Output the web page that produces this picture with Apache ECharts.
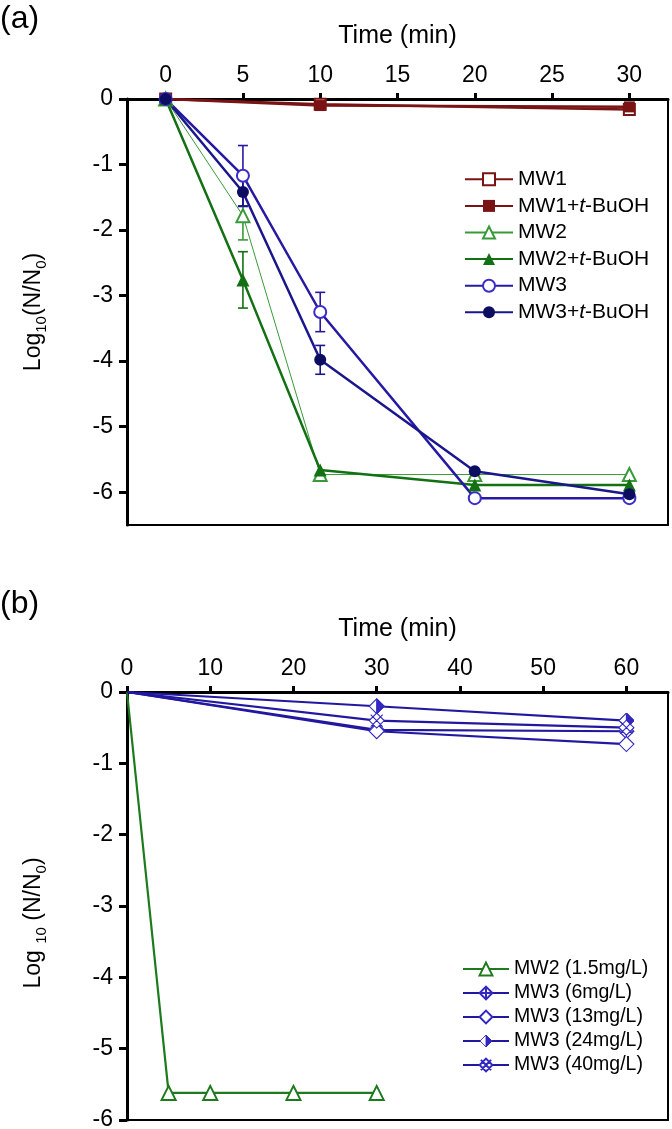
<!DOCTYPE html>
<html><head><meta charset="utf-8">
<script src="https://cdn.jsdelivr.net/npm/echarts@6/dist/echarts.min.js"></script>
<style>html,body{margin:0;padding:0;background:#fff}#c{width:672px;height:1129px}</style>
</head><body><div id="c"></div>
<script>
// ---------- Panel (a) data ----------
const timeA_MW1 = [0, 10, 30];
const MW1 = [0, -0.08, -0.16];
const MW1_tBuOH = [0, -0.10, -0.12];
const timeA = [0, 5, 10, 20, 30];
const MW2 = [0, -1.78, -5.73, -5.73, -5.73];
const MW2_tBuOH = [0, -2.76, -5.66, -5.89, -5.89];
const MW3 = [0, -1.17, -3.25, -6.09, -6.09];
const MW3_tBuOH = [0, -1.42, -3.98, -5.68, -6.03];
const MW2_err = [0, 0.37, 0, 0, 0];
const MW2_tBuOH_err = [0, 0.43, 0, 0, 0];
const MW3_err = [0, 0.46, 0.30, 0, 0];
const MW3_tBuOH_err = [0, 0.22, 0.22, 0, 0];
const ticksA_x = [0, 5, 10, 15, 20, 25, 30];
const ticksA_y = [0, -1, -2, -3, -4, -5, -6];

// ---------- Panel (b) data ----------
const timeB_MW2 = [0, 5, 10, 20, 30];
const MW2_15 = [0, -5.62, -5.62, -5.62, -5.62];
const timeB_MW3 = [0, 30, 60];
const MW3_6 = [0, -0.53, -0.55];
const MW3_13 = [0, -0.55, -0.73];
const MW3_24 = [0, -0.20, -0.40];
const MW3_40 = [0, -0.40, -0.50];
const ticksB_x = [0, 10, 20, 30, 40, 50, 60];
const ticksB_y = [0, -1, -2, -3, -4, -5, -6];

const legendA = ['MW1', 'MW1+t-BuOH', 'MW2', 'MW2+t-BuOH', 'MW3', 'MW3+t-BuOH'];
const legendB = ['MW2 (1.5mg/L)', 'MW3 (6mg/L)', 'MW3 (13mg/L)', 'MW3 (24mg/L)', 'MW3 (40mg/L)'];

const FF = 'Liberation Sans, Arial, sans-serif';
const RED = '#7a1414', GRN_L = '#3a9a3a', GRN = '#137013', BLU = '#2619a3', NAVY = '#1a168c', NAVY_M = '#0c0c60', BLU_M = '#3a2ec6';
const BLUB = '#2218a0', BLUB_M = '#3228c0', GRNB = '#1d7a1d';

const halfSvg = "<svg xmlns='http://www.w3.org/2000/svg' width='30' height='30' viewBox='0 0 30 30'><path d='M15 1 L29 15 L15 29 L1 15 Z' fill='#fff' stroke='" + BLUB_M + "' stroke-width='2'/><path d='M15 1 L29 15 L15 29 Z' fill='" + BLUB_M + "' stroke='" + BLUB_M + "' stroke-width='2'/></svg>";
const halfDiamond = 'image://data:image/svg+xml;charset=utf-8,' + encodeURIComponent(halfSvg);
const crossDiamond = 'path://M0,-10 L10,0 L0,10 L-10,0 Z M0,-10 L0,10 M-10,0 L10,0';
const openDiamond = 'path://M0,-10 L10,0 L0,10 L-10,0 Z';
const xDiamond = 'path://M0,-10 L10,0 L0,10 L-10,0 Z M-5,-5 L5,5 M5,-5 L-5,5 M-8,-8 L-5,-5 M8,8 L5,5 M8,-8 L5,-5 M-8,8 L-5,5';

function pairs(xs, ys) { return xs.map((x, i) => [x, ys[i]]); }

function line(name, xs, ys, idx, symbol, size, itemStyle, lineColor, lineWidth, hideFirst) {
  return {
    type: 'line', name, xAxisIndex: idx * 2, yAxisIndex: idx * 2, data: pairs(xs, ys),
    symbol, symbolSize: hideFirst ? (v => v[0] === 0 ? 0 : size) : size,
    itemStyle, lineStyle: { color: lineColor, width: lineWidth },
    showSymbol: true, clip: false, z: 3, emphasis: { disabled: true }
  };
}

function errBars(name, xs, ys, errs, color) {
  const d = [];
  xs.forEach((x, i) => { if (errs[i] > 0) d.push([x, ys[i] - errs[i], ys[i] + errs[i]]); });
  return {
    type: 'custom', name: name + ' err', xAxisIndex: 0, yAxisIndex: 0, data: d, z: 2, silent: true,
    encode: { x: 0, y: [1, 2] },
    renderItem: (params, api) => {
      const x = api.value(0);
      const lo = api.coord([x, api.value(1)]);
      const hi = api.coord([x, api.value(2)]);
      const w = 5;
      const st = { stroke: color, lineWidth: 1.6 };
      return { type: 'group', children: [
        { type: 'line', shape: { x1: lo[0], y1: lo[1], x2: hi[0], y2: hi[1] }, style: st },
        { type: 'line', shape: { x1: lo[0] - w, y1: lo[1], x2: lo[0] + w, y2: lo[1] }, style: st },
        { type: 'line', shape: { x1: hi[0] - w, y1: hi[1], x2: hi[0] + w, y2: hi[1] }, style: st }
      ]};
    }
  };
}

function mainX(grid, min, max, ticks) {
  return {
    gridIndex: grid, type: 'value', position: 'top', min, max,
    axisLine: { show: true, onZero: false, lineStyle: { color: '#000', width: 3 } },
    axisTick: { show: true, customValues: ticks, length: 6, inside: false, lineStyle: { color: '#000', width: 3 } },
    axisLabel: { customValues: ticks, margin: 12, fontSize: 23, color: '#000', fontFamily: FF },
    splitLine: { show: false },
    name: 'Time (min)', nameLocation: 'middle', nameGap: 50,
    nameTextStyle: { fontSize: 25, color: '#000', fontFamily: FF }
  };
}
function edgeX(grid, min, max) {
  return { gridIndex: grid, type: 'value', position: 'bottom', min, max,
    axisLine: { show: true, onZero: false, lineStyle: { color: '#000', width: 2 } },
    axisTick: { show: false }, axisLabel: { show: false }, splitLine: { show: false } };
}
function mainY(grid, min, max, ticks, nameRich, pad) {
  return {
    gridIndex: grid, type: 'value', position: 'left', min, max,
    axisLine: { show: true, onZero: false, lineStyle: { color: '#000', width: 3 } },
    axisTick: { show: true, customValues: ticks, length: 8, lineStyle: { color: '#000', width: 3 } },
    axisLabel: { customValues: ticks, margin: 14, fontSize: 23, color: '#000', fontFamily: FF },
    splitLine: { show: false },
    name: nameRich, nameLocation: 'middle', nameRotate: 90, nameGap: 78,
    nameTextStyle: { color: '#000', fontFamily: FF, padding: pad, rich: {
      a: { fontSize: 23, fontFamily: FF, color: '#000', lineHeight: 30 },
      s: { fontSize: 15, fontFamily: FF, color: '#000', lineHeight: 15, verticalAlign: 'bottom' }
    } }
  };
}
function edgeY(grid, min, max) {
  return { gridIndex: grid, type: 'value', position: 'right', min, max,
    axisLine: { show: true, onZero: false, lineStyle: { color: '#000', width: 2 } },
    axisTick: { show: false }, axisLabel: { show: false }, splitLine: { show: false } };
}

const fmtA = n => n.indexOf('+t-') >= 0 ? '{n|' + n.split('+t-')[0] + '+}{i|t}{n|-' + n.split('+t-')[1] + '}' : '{n|' + n + '}';

const option = {
  animation: false,
  backgroundColor: '#fff',
  grid: [
    { left: 127, top: 99, width: 541, height: 426, outerBoundsMode: 'none' },
    { left: 127, top: 692, width: 541, height: 428, outerBoundsMode: 'none' }
  ],
  xAxis: [mainX(0, -2.5, 32.5, ticksA_x), edgeX(0, -2.5, 32.5), mainX(1, 0, 65, ticksB_x), edgeX(1, 0, 65)],
  yAxis: [
    mainY(0, -6.5, 0, ticksA_y, '{a|Log}{s|10}{a|(N/N}{s|0}{a|)}', 0), edgeY(0, -6.5, 0),
    mainY(1, -6, 0, ticksB_y, '{a|Log }{s|10}{a| (N/N}{s|0}{a|)}', [0, 34, 0, 0]), edgeY(1, -6, 0)
  ],
  legend: [
    { data: legendA, orient: 'vertical', left: 464, top: 166, padding: 0, itemGap: 0, itemWidth: 48, itemHeight: 15,
      selectedMode: false, formatter: fmtA,
      textStyle: { color: '#000', fontSize: 21, fontFamily: FF, lineHeight: 26.6, rich: {
        n: { fontSize: 21, fontFamily: FF, color: '#000', lineHeight: 26.6 },
        i: { fontSize: 21, fontFamily: FF, color: '#000', fontStyle: 'italic', lineHeight: 26.6 } } } },
    { data: legendB, orient: 'vertical', left: 462, top: 957, padding: 0, itemGap: 0, itemWidth: 46, itemHeight: 16,
      selectedMode: false,
      textStyle: { color: '#000', fontSize: 19.5, fontFamily: FF, lineHeight: 24 } }
  ],
  graphic: [
    { type: 'text', left: 0, top: 3, style: { text: '(a)', fontSize: 32, fontFamily: FF, fill: '#000' } },
    { type: 'text', left: 0, top: 588, style: { text: '(b)', fontSize: 32, fontFamily: FF, fill: '#000' } }
  ],
  series: [
    errBars('MW2', timeA, MW2, MW2_err, GRN_L),
    errBars('MW2+t-BuOH', timeA, MW2_tBuOH, MW2_tBuOH_err, GRN),
    errBars('MW3', timeA, MW3, MW3_err, BLU),
    errBars('MW3+t-BuOH', timeA, MW3_tBuOH, MW3_tBuOH_err, NAVY),
    line('MW1', timeA_MW1, MW1, 0, 'emptyRect', 11, { color: RED, borderWidth: 1.2 }, RED, 2.5),
    line('MW1+t-BuOH', timeA_MW1, MW1_tBuOH, 0, 'rect', 11, { color: RED }, RED, 2.5),
    line('MW2', timeA, MW2, 0, 'emptyTriangle', 13, { color: GRN_L, borderWidth: 1.2 }, GRN_L, 1),
    line('MW2+t-BuOH', timeA, MW2_tBuOH, 0, 'triangle', 13, { color: GRN }, GRN, 2.5),
    line('MW3', timeA, MW3, 0, 'emptyCircle', 12, { color: BLU_M, borderWidth: 1.2 }, BLU, 2.5),
    line('MW3+t-BuOH', timeA, MW3_tBuOH, 0, 'circle', 12, { color: NAVY_M }, NAVY, 2.5),
    line('MW2 (1.5mg/L)', timeB_MW2, MW2_15, 1, 'emptyTriangle', 14, { color: GRNB, borderWidth: 1.2 }, GRNB, 2.2, true),
    line('MW3 (6mg/L)', timeB_MW3, MW3_6, 1, crossDiamond, 15, { color: '#fff', borderColor: BLUB_M, borderWidth: 1.1 }, BLUB, 2.2, true),
    line('MW3 (13mg/L)', timeB_MW3, MW3_13, 1, openDiamond, 15, { color: '#fff', borderColor: BLUB_M, borderWidth: 1.1 }, BLUB, 2.2, true),
    line('MW3 (24mg/L)', timeB_MW3, MW3_24, 1, halfDiamond, 16, { color: BLUB_M }, BLUB, 2.2, true),
    line('MW3 (40mg/L)', timeB_MW3, MW3_40, 1, xDiamond, 15, { color: '#fff', borderColor: BLUB_M, borderWidth: 1.1 }, BLUB, 2.2, true)
  ]
};

const chart = echarts.init(document.getElementById('c'), null, { renderer: 'canvas' });
chart.setOption(option);
</script>
</body></html>
